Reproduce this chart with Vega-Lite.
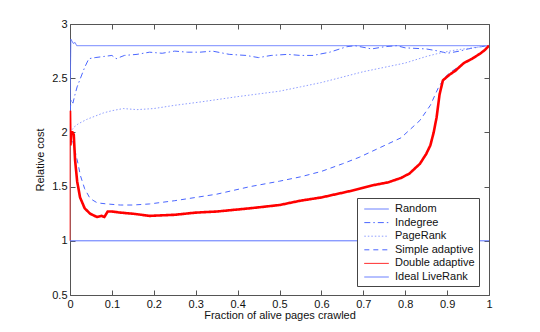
{
  "$schema": "https://vega.github.io/schema/vega-lite/v6.json",
  "width": 419,
  "height": 271,
  "autosize": {"type": "none"},
  "padding": {"left": 70, "top": 24, "right": 51, "bottom": 37},
  "background": "white",
  "config": {
    "font": "Liberation Sans",
    "view": {"stroke": null},
    "axis": {"grid": false, "domainColor": "#555", "tickColor": "#555", "labelColor": "#111", "titleColor": "#111", "labelFontSize": 11, "titleFontSize": 11, "titleFontWeight": "normal", "tickSize": -5, "labelPadding": 8, "domainWidth": 1},
    "legend": {"orient": "none", "legendX": 287, "legendY": 174, "strokeColor": "#444", "fillColor": "white", "padding": 4, "labelFontSize": 11, "labelColor": "#111", "symbolType": "M-0.6,0H3.4", "symbolSize": 150, "symbolStrokeWidth": 1, "rowPadding": 1.6, "labelOffset": 20, "labelLimit": 200}
  },
  "datasets": {
    "main": [
      {"s": "Random", "x": 0, "y": 2.2}, {"s": "Random", "x": 0.002, "y": 2.86}, {"s": "Random", "x": 0.008, "y": 2.82}, {"s": "Random", "x": 0.012, "y": 2.83}, {"s": "Random", "x": 0.016, "y": 2.8}, {"s": "Random", "x": 1, "y": 2.8},
      {"s": "Indegree", "x": 0, "y": 2.2}, {"s": "Indegree", "x": 0.003, "y": 2.3}, {"s": "Indegree", "x": 0.007, "y": 2.27}, {"s": "Indegree", "x": 0.012, "y": 2.35}, {"s": "Indegree", "x": 0.017, "y": 2.42}, {"s": "Indegree", "x": 0.025, "y": 2.5}, {"s": "Indegree", "x": 0.035, "y": 2.6}, {"s": "Indegree", "x": 0.045, "y": 2.68}, {"s": "Indegree", "x": 0.06, "y": 2.69}, {"s": "Indegree", "x": 0.08, "y": 2.7}, {"s": "Indegree", "x": 0.1, "y": 2.71}, {"s": "Indegree", "x": 0.11, "y": 2.68}, {"s": "Indegree", "x": 0.13, "y": 2.71}, {"s": "Indegree", "x": 0.16, "y": 2.72}, {"s": "Indegree", "x": 0.19, "y": 2.74}, {"s": "Indegree", "x": 0.22, "y": 2.73}, {"s": "Indegree", "x": 0.25, "y": 2.75}, {"s": "Indegree", "x": 0.28, "y": 2.74}, {"s": "Indegree", "x": 0.31, "y": 2.74}, {"s": "Indegree", "x": 0.34, "y": 2.75}, {"s": "Indegree", "x": 0.38, "y": 2.72}, {"s": "Indegree", "x": 0.42, "y": 2.71}, {"s": "Indegree", "x": 0.45, "y": 2.69}, {"s": "Indegree", "x": 0.48, "y": 2.71}, {"s": "Indegree", "x": 0.52, "y": 2.72}, {"s": "Indegree", "x": 0.55, "y": 2.71}, {"s": "Indegree", "x": 0.58, "y": 2.71}, {"s": "Indegree", "x": 0.62, "y": 2.74}, {"s": "Indegree", "x": 0.66, "y": 2.79}, {"s": "Indegree", "x": 0.68, "y": 2.8}, {"s": "Indegree", "x": 0.72, "y": 2.77}, {"s": "Indegree", "x": 0.75, "y": 2.79}, {"s": "Indegree", "x": 0.78, "y": 2.8}, {"s": "Indegree", "x": 0.8, "y": 2.78}, {"s": "Indegree", "x": 0.85, "y": 2.77}, {"s": "Indegree", "x": 0.88, "y": 2.75}, {"s": "Indegree", "x": 0.9, "y": 2.73}, {"s": "Indegree", "x": 0.93, "y": 2.75}, {"s": "Indegree", "x": 0.95, "y": 2.77}, {"s": "Indegree", "x": 0.98, "y": 2.79}, {"s": "Indegree", "x": 1, "y": 2.8},
      {"s": "PageRank", "x": 0, "y": 2.0}, {"s": "PageRank", "x": 0.01, "y": 2.05}, {"s": "PageRank", "x": 0.02, "y": 2.08}, {"s": "PageRank", "x": 0.04, "y": 2.12}, {"s": "PageRank", "x": 0.06, "y": 2.15}, {"s": "PageRank", "x": 0.08, "y": 2.18}, {"s": "PageRank", "x": 0.1, "y": 2.2}, {"s": "PageRank", "x": 0.127, "y": 2.22}, {"s": "PageRank", "x": 0.16, "y": 2.21}, {"s": "PageRank", "x": 0.2, "y": 2.22}, {"s": "PageRank", "x": 0.25, "y": 2.25}, {"s": "PageRank", "x": 0.31, "y": 2.28}, {"s": "PageRank", "x": 0.4, "y": 2.33}, {"s": "PageRank", "x": 0.5, "y": 2.38}, {"s": "PageRank", "x": 0.55, "y": 2.42}, {"s": "PageRank", "x": 0.6, "y": 2.46}, {"s": "PageRank", "x": 0.65, "y": 2.51}, {"s": "PageRank", "x": 0.7, "y": 2.56}, {"s": "PageRank", "x": 0.75, "y": 2.6}, {"s": "PageRank", "x": 0.8, "y": 2.64}, {"s": "PageRank", "x": 0.85, "y": 2.7}, {"s": "PageRank", "x": 0.88, "y": 2.73}, {"s": "PageRank", "x": 0.92, "y": 2.76}, {"s": "PageRank", "x": 0.96, "y": 2.78}, {"s": "PageRank", "x": 1, "y": 2.8},
      {"s": "Simple adaptive", "x": 0, "y": 2.0}, {"s": "Simple adaptive", "x": 0.005, "y": 1.95}, {"s": "Simple adaptive", "x": 0.01, "y": 1.86}, {"s": "Simple adaptive", "x": 0.017, "y": 1.75}, {"s": "Simple adaptive", "x": 0.025, "y": 1.6}, {"s": "Simple adaptive", "x": 0.035, "y": 1.48}, {"s": "Simple adaptive", "x": 0.048, "y": 1.39}, {"s": "Simple adaptive", "x": 0.065, "y": 1.35}, {"s": "Simple adaptive", "x": 0.088, "y": 1.34}, {"s": "Simple adaptive", "x": 0.12, "y": 1.33}, {"s": "Simple adaptive", "x": 0.15, "y": 1.33}, {"s": "Simple adaptive", "x": 0.19, "y": 1.34}, {"s": "Simple adaptive", "x": 0.25, "y": 1.37}, {"s": "Simple adaptive", "x": 0.3, "y": 1.4}, {"s": "Simple adaptive", "x": 0.35, "y": 1.43}, {"s": "Simple adaptive", "x": 0.43, "y": 1.5}, {"s": "Simple adaptive", "x": 0.5, "y": 1.55}, {"s": "Simple adaptive", "x": 0.55, "y": 1.59}, {"s": "Simple adaptive", "x": 0.6, "y": 1.64}, {"s": "Simple adaptive", "x": 0.65, "y": 1.71}, {"s": "Simple adaptive", "x": 0.69, "y": 1.77}, {"s": "Simple adaptive", "x": 0.74, "y": 1.86}, {"s": "Simple adaptive", "x": 0.79, "y": 1.95}, {"s": "Simple adaptive", "x": 0.835, "y": 2.11}, {"s": "Simple adaptive", "x": 0.86, "y": 2.25}, {"s": "Simple adaptive", "x": 0.88, "y": 2.42}, {"s": "Simple adaptive", "x": 0.895, "y": 2.51}, {"s": "Simple adaptive", "x": 0.91, "y": 2.56}, {"s": "Simple adaptive", "x": 0.94, "y": 2.64}, {"s": "Simple adaptive", "x": 0.98, "y": 2.73}, {"s": "Simple adaptive", "x": 1, "y": 2.8},
      {"s": "Double adaptive", "x": 0, "y": 2.2}, {"s": "Double adaptive", "x": 0.001, "y": 1.88}, {"s": "Double adaptive", "x": 0.003, "y": 2.0}, {"s": "Double adaptive", "x": 0.006, "y": 2.0}, {"s": "Double adaptive", "x": 0.009, "y": 1.98}, {"s": "Double adaptive", "x": 0.012, "y": 1.75}, {"s": "Double adaptive", "x": 0.017, "y": 1.55}, {"s": "Double adaptive", "x": 0.024, "y": 1.4}, {"s": "Double adaptive", "x": 0.035, "y": 1.3}, {"s": "Double adaptive", "x": 0.048, "y": 1.25}, {"s": "Double adaptive", "x": 0.064, "y": 1.22}, {"s": "Double adaptive", "x": 0.075, "y": 1.23}, {"s": "Double adaptive", "x": 0.082, "y": 1.22}, {"s": "Double adaptive", "x": 0.09, "y": 1.27}, {"s": "Double adaptive", "x": 0.1, "y": 1.27}, {"s": "Double adaptive", "x": 0.12, "y": 1.26}, {"s": "Double adaptive", "x": 0.15, "y": 1.25}, {"s": "Double adaptive", "x": 0.19, "y": 1.23}, {"s": "Double adaptive", "x": 0.25, "y": 1.24}, {"s": "Double adaptive", "x": 0.3, "y": 1.26}, {"s": "Double adaptive", "x": 0.35, "y": 1.27}, {"s": "Double adaptive", "x": 0.43, "y": 1.3}, {"s": "Double adaptive", "x": 0.5, "y": 1.33}, {"s": "Double adaptive", "x": 0.55, "y": 1.37}, {"s": "Double adaptive", "x": 0.6, "y": 1.4}, {"s": "Double adaptive", "x": 0.67, "y": 1.46}, {"s": "Double adaptive", "x": 0.72, "y": 1.51}, {"s": "Double adaptive", "x": 0.76, "y": 1.54}, {"s": "Double adaptive", "x": 0.79, "y": 1.58}, {"s": "Double adaptive", "x": 0.81, "y": 1.62}, {"s": "Double adaptive", "x": 0.835, "y": 1.71}, {"s": "Double adaptive", "x": 0.85, "y": 1.8}, {"s": "Double adaptive", "x": 0.86, "y": 1.88}, {"s": "Double adaptive", "x": 0.868, "y": 2.0}, {"s": "Double adaptive", "x": 0.875, "y": 2.14}, {"s": "Double adaptive", "x": 0.882, "y": 2.35}, {"s": "Double adaptive", "x": 0.89, "y": 2.48}, {"s": "Double adaptive", "x": 0.905, "y": 2.53}, {"s": "Double adaptive", "x": 0.92, "y": 2.57}, {"s": "Double adaptive", "x": 0.94, "y": 2.64}, {"s": "Double adaptive", "x": 0.96, "y": 2.68}, {"s": "Double adaptive", "x": 0.98, "y": 2.73}, {"s": "Double adaptive", "x": 0.99, "y": 2.76}, {"s": "Double adaptive", "x": 1, "y": 2.8},
      {"s": "Ideal LiveRank", "x": 0, "y": 1}, {"s": "Ideal LiveRank", "x": 1, "y": 1}
    ],
    "start": [
      {"x": 0, "y": 1.0}, {"x": 0, "y": 2.2}
    ]
  },
  "layer": [
    {
      "data": {"name": "start"},
      "mark": {"type": "line", "color": "#ff5050", "strokeWidth": 1},
      "encoding": {
        "x": {"field": "x", "type": "quantitative", "scale": {"domain": [0, 1], "nice": false}, "axis": {"title": "Fraction of alive pages crawled", "values": [0, 0.1, 0.2, 0.3, 0.4, 0.5, 0.6, 0.7, 0.8, 0.9, 1], "format": "~g", "titlePadding": 0, "labelFlush": false}},
        "y": {"field": "y", "type": "quantitative", "scale": {"domain": [0.5, 3], "nice": false}, "axis": {"title": "Relative cost", "values": [0.5, 1, 1.5, 2, 2.5, 3], "format": "~g", "titlePadding": 6, "labelFlush": false}}
      }
    },
    {
      "data": {"name": "main"},
      "transform": [{"filter": "datum.s !== 'Double adaptive'"}],
      "mark": {"type": "line", "clip": true, "strokeWidth": 1},
      "encoding": {
        "x": {"field": "x", "type": "quantitative", "axis": {"orient": "top", "labels": false, "title": null, "values": [0, 0.1, 0.2, 0.3, 0.4, 0.5, 0.6, 0.7, 0.8, 0.9, 1]}},
        "y": {"field": "y", "type": "quantitative", "axis": {"orient": "right", "labels": false, "title": null, "values": [0.5, 1, 1.5, 2, 2.5, 3]}},
        "color": {"field": "s", "type": "nominal", "sort": null, "scale": {"domain": ["Random", "Indegree", "PageRank", "Simple adaptive", "Double adaptive", "Ideal LiveRank"], "range": ["#5a72ff", "#4a66ff", "#8f9eff", "#4a66ff", "#ff0000", "#5a72ff"]}, "legend": {"title": null}},
        "strokeDash": {"field": "s", "type": "nominal", "sort": null, "scale": {"domain": ["Random", "Indegree", "PageRank", "Simple adaptive", "Double adaptive", "Ideal LiveRank"], "range": [[1, 0], [6, 3, 1.5, 3], [1.5, 2], [5, 4], [1, 0], [1, 0]]}, "legend": {"title": null}},
        "order": {"field": "x", "type": "quantitative"}
      }
    },
    {
      "data": {"name": "main"},
      "transform": [{"filter": "datum.s === 'Double adaptive'"}],
      "mark": {"type": "line", "clip": true, "strokeWidth": 2.6},
      "encoding": {
        "x": {"field": "x", "type": "quantitative", "axis": null},
        "y": {"field": "y", "type": "quantitative", "axis": null},
        "color": {"field": "s", "type": "nominal", "sort": null, "legend": {"title": null}},
        "strokeDash": {"field": "s", "type": "nominal", "sort": null, "legend": {"title": null}},
        "order": {"field": "x", "type": "quantitative"}
      }
    }
  ],
  "resolve": {"axis": {"x": "independent", "y": "independent"}}
}
